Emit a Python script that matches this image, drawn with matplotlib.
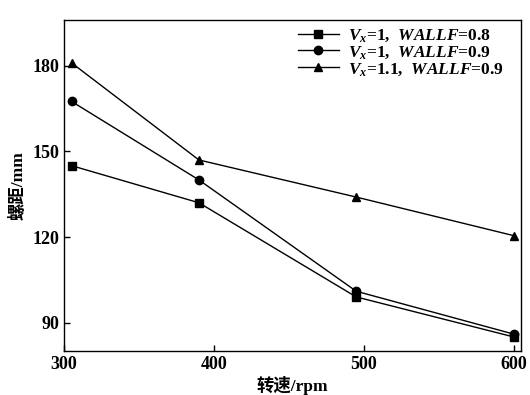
import matplotlib
matplotlib.use("Agg")
from matplotlib import pyplot as plt

# speed (rpm) and pitch (mm) for each case
speed = [305, 390, 495, 600]
pitch_vx1_w08 = [145, 132, 99, 85]
pitch_vx1_w09 = [167.5, 140, 101, 86]
pitch_vx11_w09 = [181, 147, 134, 120.5]
labels = [r"$\mathbfit{V}_{\mathbfit{x}}$=1,  $\mathbfit{WALLF}$=0.8",
          r"$\mathbfit{V}_{\mathbfit{x}}$=1,  $\mathbfit{WALLF}$=0.9",
          r"$\mathbfit{V}_{\mathbfit{x}}$=1.1,  $\mathbfit{WALLF}$=0.9"]
y_ticks = [90, 120, 150, 180]
x_ticks = [300, 400, 500, 600]

plt.rcParams['font.family'] = ['Liberation Serif', 'Noto Sans CJK SC']
plt.rcParams['font.weight'] = 'bold'
plt.rcParams['mathtext.fontset'] = 'custom'
plt.rcParams['mathtext.rm'] = 'Liberation Serif:bold'
plt.rcParams['mathtext.bf'] = 'Liberation Serif:bold'
plt.rcParams['mathtext.it'] = 'Liberation Serif:italic:bold'
plt.rcParams['mathtext.bfit'] = 'Liberation Serif:italic:bold'

fig = plt.figure(figsize=(5.3, 3.95), dpi=100)
ax = fig.add_axes([0.121, 0.111, 0.862, 0.838])

series = [pitch_vx1_w08, pitch_vx1_w09, pitch_vx11_w09]
markers = ['s', 'o', '^']
for vals, m, lab in zip(series, markers, labels):
    ax.plot(speed, vals, color='black', lw=1.0, marker=m, markersize=6, label=lab)

ax.set_xlim(300, 605)
ax.set_ylim(80, 196)
ax.set_xticks(x_ticks)
ax.set_yticks(y_ticks)
ax.tick_params(direction='in', labelsize=13, length=4, width=1)
for lbl in ax.get_xticklabels() + ax.get_yticklabels():
    lbl.set_fontweight('bold')
for s in ax.spines.values():
    s.set_linewidth(1.0)

ax.set_xlabel('转速/rpm', fontsize=12.5, fontweight='bold', labelpad=2)
ax.set_ylabel('螺距/mm', fontsize=12.5, fontweight='bold', labelpad=4)

ax.legend(loc='upper right', bbox_to_anchor=(0.985, 1.01), frameon=False,
          fontsize=12.5, handlelength=2.4, handletextpad=0.5, labelspacing=0.0,
          borderaxespad=0.3, borderpad=0.3)

fig.savefig('out.png', dpi=100)
